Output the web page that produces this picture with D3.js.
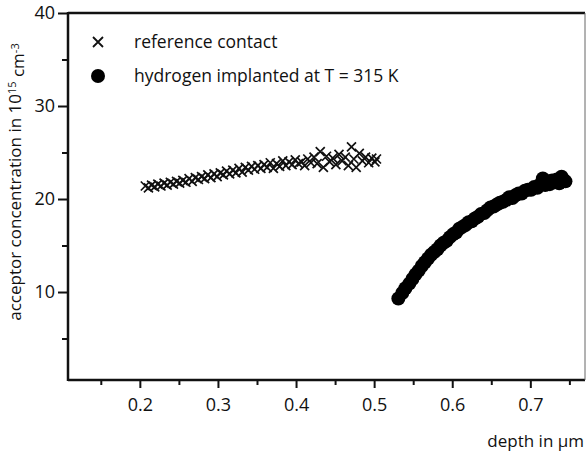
<!DOCTYPE html>
<html>
<head>
<meta charset="utf-8">
<script src="https://cdn.jsdelivr.net/npm/d3@7"></script>
<style>
  body { margin: 0; background: #fff; }
  text { font-family: "Open Sans", sans-serif; fill: #111; }
</style>
</head>
<body>
<div id="chart-area"></div>
<script>
// reference contact (crosses)
var refDepth = [0.207, 0.211, 0.215, 0.219, 0.223, 0.227, 0.231, 0.235, 0.239, 0.243,
    0.247, 0.251, 0.255, 0.259, 0.263, 0.267, 0.271, 0.275, 0.279, 0.283,
    0.287, 0.291, 0.295, 0.299, 0.303, 0.307, 0.311, 0.315, 0.319, 0.323,
    0.327, 0.331, 0.335, 0.339, 0.343, 0.347, 0.351, 0.355, 0.359, 0.363,
    0.367, 0.371, 0.375, 0.379, 0.383, 0.387, 0.391, 0.395, 0.399, 0.403,
    0.407, 0.411, 0.415, 0.419, 0.423, 0.427, 0.431, 0.435, 0.439, 0.443,
    0.447, 0.451, 0.455, 0.459, 0.463, 0.467, 0.471, 0.474, 0.477, 0.481,
    0.485, 0.489, 0.493, 0.497, 0.501, 0.503];
var refConc = [21.4, 21.2, 21.5, 21.3, 21.6, 21.4, 21.7, 21.5, 21.8, 21.6,
    21.9, 21.7, 22.0, 21.8, 22.2, 21.9, 22.3, 22.1, 22.4, 22.2,
    22.6, 22.3, 22.7, 22.4, 22.8, 22.6, 23.0, 22.7, 23.1, 22.8,
    23.3, 22.9, 23.4, 23.1, 23.5, 23.2, 23.6, 23.3, 23.7, 23.4,
    23.9, 23.3, 23.8, 23.5, 24.1, 23.6, 24.0, 23.7, 24.2, 23.8,
    24.0, 23.6, 24.3, 23.9, 24.5, 23.8, 25.1, 23.4, 24.6, 24.0,
    24.4, 23.7, 24.8, 24.1, 24.5, 23.6, 25.6, 24.3, 23.4, 24.9,
    24.1, 24.5, 23.9, 24.4, 24.0, 24.3];

// hydrogen implanted at T = 315 K (dots)
var h2Depth = [0.531, 0.536, 0.540, 0.545, 0.549, 0.553, 0.557, 0.561, 0.565, 0.569,
    0.573, 0.577, 0.581, 0.585, 0.589, 0.593, 0.597, 0.601, 0.605, 0.609,
    0.613, 0.617, 0.621, 0.625, 0.629, 0.633, 0.637, 0.641, 0.645, 0.649,
    0.653, 0.657, 0.661, 0.665, 0.669, 0.673, 0.677, 0.681, 0.685, 0.689,
    0.693, 0.697, 0.701, 0.705, 0.709, 0.713, 0.716, 0.719, 0.722, 0.725,
    0.728, 0.731, 0.734, 0.737, 0.740, 0.743, 0.745];
var h2Conc = [9.3, 9.9, 10.4, 10.9, 11.4, 11.9, 12.3, 12.8, 13.2, 13.6,
    14.0, 14.3, 14.6, 15.0, 15.3, 15.5, 15.9, 16.2, 16.4, 16.8,
    17.0, 17.2, 17.5, 17.6, 17.9, 18.1, 18.4, 18.5, 18.8, 19.1,
    19.2, 19.4, 19.6, 19.7, 19.9, 20.2, 20.1, 20.4, 20.6, 20.6,
    20.9, 21.0, 21.0, 21.3, 21.2, 21.6, 22.2, 21.5, 21.9, 21.6,
    22.0, 21.8, 22.1, 21.7, 22.4, 22.0, 21.9];

var xMajor = [0.2, 0.3, 0.4, 0.5, 0.6, 0.7];
var xMinor = [0.15, 0.25, 0.35, 0.45, 0.55, 0.65, 0.75];
var yMajor = [10, 20, 30, 40];
var yMinor = [5, 15, 25, 35];

var width = 586, height = 453;
var plotLeft = 68, plotRight = 585, plotTop = 13, plotBottom = 380;

var svg = d3.select("#chart-area")
    .append("svg")
    .attr("width", width)
    .attr("height", height);

var x = d3.scaleLinear().domain([0.108, 0.77]).range([plotLeft, plotRight]);
var y = d3.scaleLinear().domain([0.54, 40]).range([plotBottom, plotTop]);

// axes
svg.append("g")
    .attr("transform", "translate(0," + plotBottom + ")")
    .call(d3.axisBottom(x).tickValues(xMajor).tickSize(8).tickPadding(10).tickFormat(d3.format(".1f")));
svg.append("g")
    .attr("transform", "translate(0," + plotBottom + ")")
    .call(d3.axisBottom(x).tickValues(xMinor).tickSize(5).tickFormat(""));

svg.append("g")
    .attr("transform", "translate(" + plotLeft + ",0)")
    .call(d3.axisLeft(y).tickValues(yMajor).tickSize(10).tickPadding(3));
svg.append("g")
    .attr("transform", "translate(" + plotLeft + ",0)")
    .call(d3.axisLeft(y).tickValues(yMinor).tickSize(6).tickFormat(""));

svg.selectAll(".domain").remove();
svg.selectAll(".tick line").attr("stroke", "#111").attr("stroke-width", 2);
svg.selectAll(".tick text").style("font-size", "18px").attr("fill", "#111");

// frame
svg.append("line").attr("x1", plotLeft).attr("x2", plotRight).attr("y1", plotTop).attr("y2", plotTop)
    .attr("stroke", "#111").attr("stroke-width", 2.5);
svg.append("line").attr("x1", plotLeft).attr("x2", plotLeft).attr("y1", plotTop - 1).attr("y2", plotBottom + 1)
    .attr("stroke", "#111").attr("stroke-width", 2.5);
svg.append("line").attr("x1", plotLeft).attr("x2", plotRight).attr("y1", plotBottom).attr("y2", plotBottom)
    .attr("stroke", "#111").attr("stroke-width", 2.5);
svg.append("line").attr("x1", plotRight).attr("x2", plotRight).attr("y1", plotTop).attr("y2", plotBottom)
    .attr("stroke", "#666").attr("stroke-width", 1);

// cross marker path
function cross(s) {
    return "M" + (-s) + "," + (-s) + "L" + s + "," + s + "M" + (-s) + "," + s + "L" + s + "," + (-s);
}

var refData = refDepth.map(function (d, i) { return { x: d, y: refConc[i] }; });
var h2Data = h2Depth.map(function (d, i) { return { x: d, y: h2Conc[i] }; });

svg.append("g").selectAll("path")
    .data(refData)
    .enter()
    .append("path")
    .attr("d", cross(4.5))
    .attr("transform", function (d) { return "translate(" + x(d.x) + "," + y(d.y) + ")"; })
    .attr("fill", "none")
    .attr("stroke", "#111")
    .attr("stroke-width", 1.7);

svg.append("g").selectAll("circle")
    .data(h2Data)
    .enter()
    .append("circle")
    .attr("cx", function (d) { return x(d.x); })
    .attr("cy", function (d) { return y(d.y); })
    .attr("r", 7)
    .attr("fill", "#000");

// legend
var legend = svg.append("g");
legend.append("path")
    .attr("d", cross(5))
    .attr("transform", "translate(98,42)")
    .attr("fill", "none")
    .attr("stroke", "#111")
    .attr("stroke-width", 1.8);
legend.append("text").attr("x", 134).attr("y", 42).attr("dy", "0.35em")
    .style("font-size", "17.5px").text("reference contact");
legend.append("circle").attr("cx", 98).attr("cy", 76).attr("r", 7).attr("fill", "#000");
legend.append("text").attr("x", 134).attr("y", 76).attr("dy", "0.35em")
    .style("font-size", "17.5px").text("hydrogen implanted at T = 315 K");

// axis titles
svg.append("text")
    .attr("x", 584).attr("y", 447)
    .attr("text-anchor", "end")
    .style("font-size", "17px")
    .text("depth in \u03bcm");

var yTitle = svg.append("text")
    .attr("transform", "translate(21,182) rotate(-90)")
    .attr("text-anchor", "middle")
    .style("font-size", "17px");
yTitle.append("tspan").text("acceptor concentration in 10");
yTitle.append("tspan").attr("dy", "-0.45em").style("font-size", "11px").text("15");
yTitle.append("tspan").attr("dy", "0.45em").text(" cm");
yTitle.append("tspan").attr("dy", "-0.45em").style("font-size", "11px").text("-3");
</script>
</body>
</html>
